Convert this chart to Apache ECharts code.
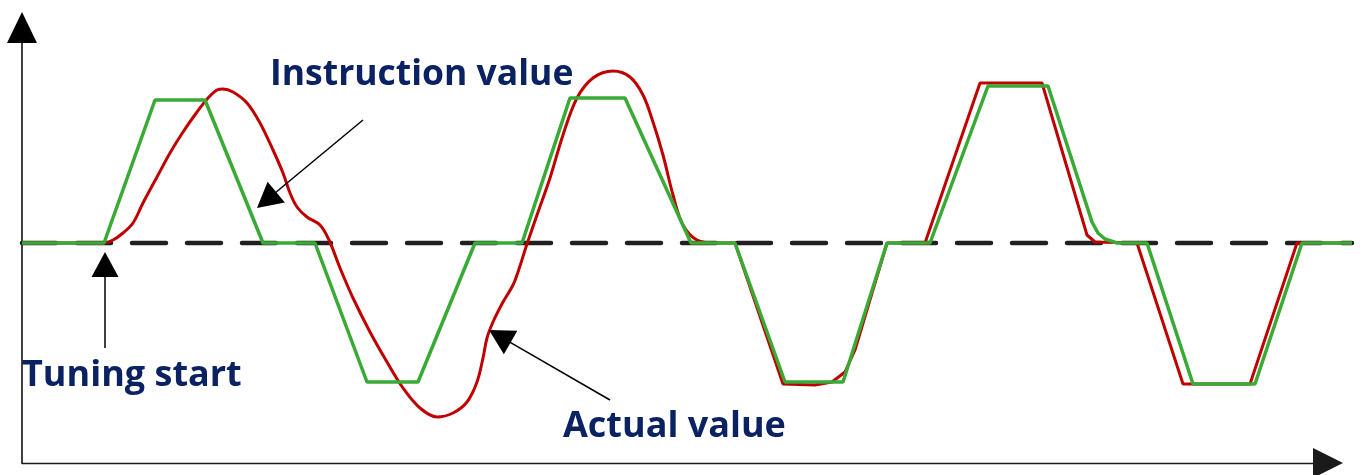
<!DOCTYPE html>
<html>
<head>
<meta charset="utf-8">
<script src="https://cdn.jsdelivr.net/npm/echarts@6/dist/echarts.min.js"></script>
<style>
  html, body { margin: 0; padding: 0; background: #ffffff; }
  #main { width: 1363px; height: 475px; }
</style>
</head>
<body>
<div id="main"></div>
<script>
// 指令值（梯形波）
var instructionX = [0, 82, 133, 183, 241, 293, 345, 396, 453, 500, 548, 603, 669, 713, 763, 821, 865, 908, 966, 1026, 1070, 1076, 1083, 1095, 1125, 1171, 1233, 1280, 1330];
var instructionY = [0, 0, 143, 143, 0, 0, -139, -139, 0, 0, 145, 145, 0, 0, -139, -139, 0, 0, 157, 157, 21, 10, 4, 0, 0, -141, -141, 0, 0];

// 实际值（调谐前段，平滑曲线）
var actualCurveX = [0, 81, 91, 101, 111, 121, 135, 148, 161, 175, 186, 195, 201, 211, 225, 238, 251, 261, 268, 275, 285, 298, 307,
  318, 331, 348, 365, 381, 398, 415, 431, 445, 455, 461, 465, 471, 481, 491, 498, 504,
  515, 528, 541, 555, 571, 591, 608, 621, 631, 641, 651, 661, 675, 695, 713];
var actualCurveY = [0, 0, 3, 10, 20, 40, 66, 90, 111, 131, 145, 153, 154, 151, 140, 120, 93, 70, 50, 36, 26, 18, 3,
  -25, -55, -89, -119, -145, -165, -174, -170, -159, -139, -115, -95, -79, -59, -42, -23, -4,
  28, 65, 108, 145, 165, 172, 166, 148, 121, 88, 48, 18, 3, 0, 0];

// 实际值（调谐后段）
var actualTrackX = [713, 761, 793, 810, 823, 833, 865, 903, 958, 1020, 1065, 1073, 1115, 1161, 1228, 1275, 1330];
var actualTrackY = [0, -141, -142, -139, -129, -107, 0, 0, 160, 160, 8, 1, 0, -141, -141, 0, 0];

// 零线
var zeroX = [0, 1330];
var zeroY = [0, 0];

// 标注文字
var labels = ["Instruction value", "Tuning start", "Actual value"];

function pairs(xs, ys) {
  return xs.map(function (x, i) { return [x, ys[i]]; });
}

var myChart = echarts.init(document.getElementById("main"));
var option = {
  animation: false,
  grid: [
    // 数据区
    { left: 22, right: 11, top: 43, bottom: 12 },
    // 坐标轴框（带箭头）
    { left: 22, right: 50, top: 43, bottom: 12 }
  ],
  xAxis: [
    { gridIndex: 0, type: "value", min: 0, max: 1330, show: false },
    {
      gridIndex: 1,
      type: "value",
      min: 0,
      max: 1291,
      axisLine: {
        show: true,
        onZero: false,
        symbol: ["none", "triangle"],
        symbolSize: [30, 30],
        symbolOffset: [0, 15],
        lineStyle: { color: "#1a1a1a", width: 1.4 }
      },
      axisTick: { show: false },
      axisLabel: { show: false },
      splitLine: { show: false }
    }
  ],
  yAxis: [
    { gridIndex: 0, type: "value", min: -220, max: 200, show: false },
    {
      gridIndex: 1,
      type: "value",
      min: -220,
      max: 200,
      axisLine: {
        show: true,
        onZero: false,
        symbol: ["none", "triangle"],
        symbolSize: [30, 31],
        symbolOffset: [0, 15.5],
        lineStyle: { color: "#000000", width: 1.5 }
      },
      axisTick: { show: false },
      axisLabel: { show: false },
      splitLine: { show: false }
    }
  ],
  series: [
    {
      name: "zero",
      type: "line",
      xAxisIndex: 0,
      yAxisIndex: 0,
      data: pairs(zeroX, zeroY),
      symbol: "none",
      lineStyle: { color: "#231f20", width: 4.5, type: [34, 21], cap: "round" },
      markLine: {
        silent: true,
        symbol: ["none", "triangle"],
        symbolSize: [27, 25],
        label: { show: false },
        lineStyle: { color: "#000000", width: 1.5, type: "solid" },
        data: [
          [{ coord: [341, 123] }, { coord: [244.6, 43] }],
          [{ coord: [83, -105] }, { coord: [83, -21.5] }],
          [{ coord: [588, -157] }, { coord: [477.8, -93.3] }]
        ]
      }
    },
    {
      name: "Actual value",
      type: "line",
      xAxisIndex: 0,
      yAxisIndex: 0,
      data: pairs(actualCurveX, actualCurveY),
      symbol: "none",
      smooth: 0.35,
      lineStyle: { color: "#c00000", width: 3 }
    },
    {
      name: "Actual value",
      type: "line",
      xAxisIndex: 0,
      yAxisIndex: 0,
      data: pairs(actualTrackX, actualTrackY),
      symbol: "none",
      lineStyle: { color: "#c00000", width: 3 }
    },
    {
      name: "Instruction value",
      type: "line",
      xAxisIndex: 0,
      yAxisIndex: 0,
      data: pairs(instructionX, instructionY),
      symbol: "none",
      lineStyle: { color: "#39aa35", width: 3.5 }
    }
  ],
  graphic: [
    { type: "text", left: 270, top: 57, style: { text: labels[0], font: 'bold 35.5px "Open Sans"', fill: "#0b2262" } },
    { type: "text", left: 22, top: 358, style: { text: labels[1], font: 'bold 36px "Open Sans"', fill: "#0b2262" } },
    { type: "text", left: 563, top: 409, style: { text: labels[2], font: 'bold 36px "Open Sans"', fill: "#0b2262" } }
  ]
};
myChart.setOption(option);
window.addEventListener("resize", function () {
  myChart.resize();
});
</script>
</body>
</html>
